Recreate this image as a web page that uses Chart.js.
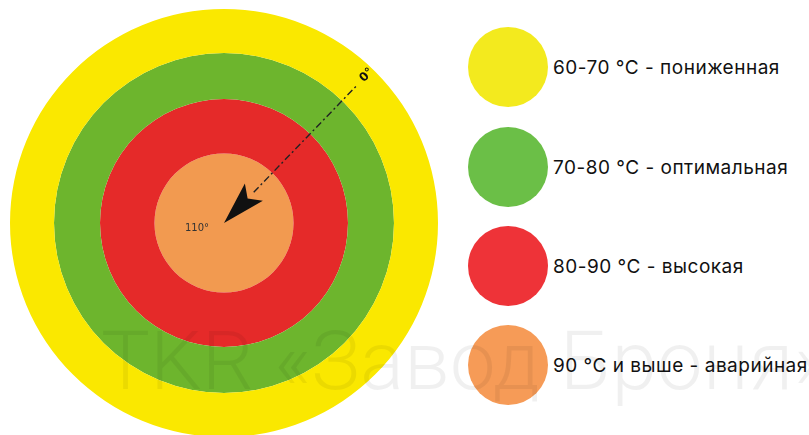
<!DOCTYPE html>
<html lang="ru">
<head>
<meta charset="utf-8">
<script src="https://cdn.jsdelivr.net/npm/chart.js@4.4.1/dist/chart.umd.min.js"></script>
<style>
    html, body { margin: 0; padding: 0; background: #fff; }
    body { width: 809px; height: 435px; position: relative; overflow: hidden; font-family: Inter, "Noto Sans", sans-serif; }
    #chartBox { position: absolute; left: 10px; top: 9px; width: 428px; height: 428px; }
    #legend { position: absolute; left: 0; top: 0; }
    .item { position: absolute; left: 468px; height: 80px; display: flex; align-items: center; white-space: nowrap; }
    .dot { width: 80px; height: 80px; border-radius: 50%; margin-right: 5px; }
    .item span { font-size: 19px; letter-spacing: 0.5px; color: #111; }
    #mark { position: absolute; left: 101px; top: 320px; font-family: Roboto, sans-serif; font-weight: 300;
            font-size: 82px; line-height: 82px; color: rgba(0, 0, 0, 0.06); white-space: nowrap; pointer-events: none; }
</style>
</head>
<body>
<div id="chartBox"><canvas id="rings"></canvas></div>
<div id="legend"></div>
<div id="mark">TKR «Завод Броня»</div>
<script>
// zones, from the outer ring to the centre
const zoneLabels = ['60-70 °C - пониженная', '70-80 °C - оптимальная', '80-90 °C - высокая', '90 °C и выше - аварийная'];
const zoneValues = [1, 1, 1, 1];
const arrowLabels = ['0°', '110°'];

// styles
const ringColors = ['#FAE800', '#6DB52D', '#E52A29', '#F29A50'];
const legendColors = ['#F3EA1E', '#6BBF47', '#EE3338', '#F69B57'];
const ringWeights = [44, 46, 54.5, 69.5];
const legendTops = [27, 127, 226, 325];

const legend = document.getElementById('legend');
zoneLabels.forEach(function (label, i) {
    const item = document.createElement('div');
    item.className = 'item';
    item.style.top = legendTops[i] + 'px';
    item.innerHTML = '<div class="dot" style="background:' + legendColors[i] + '"></div><span>' + label + '</span>';
    legend.appendChild(item);
});

const arrowPlugin = {
    id: 'arrow',
    afterDatasetsDraw(chart) {
        const arc = chart.getDatasetMeta(0).data[0];
        const ctx = chart.ctx;
        const R = arc.outerRadius;
        const a = -46 * Math.PI / 180;
        ctx.save();
        ctx.translate(arc.x, arc.y);
        ctx.rotate(a);

        // dash-dot line
        ctx.strokeStyle = '#222';
        ctx.lineWidth = 1.4;
        ctx.setLineDash([7, 3, 2, 3]);
        ctx.beginPath();
        ctx.moveTo(R * 0.2, 0);
        ctx.lineTo(R * 0.9, 0);
        ctx.stroke();

        // arrow head at the centre
        ctx.setLineDash([]);
        ctx.fillStyle = '#111';
        ctx.beginPath();
        ctx.moveTo(0, 0);
        ctx.lineTo(43, -12.5);
        ctx.lineTo(34, 0);
        ctx.lineTo(43, 12.5);
        ctx.closePath();
        ctx.fill();

        // outer label
        ctx.font = 'bold 12px "DejaVu Sans", sans-serif';
        ctx.textAlign = 'center';
        ctx.textBaseline = 'middle';
        ctx.fillText(arrowLabels[0], R * 0.96, 0);
        ctx.restore();

        // centre label
        ctx.save();
        ctx.fillStyle = '#333';
        ctx.font = '10px "DejaVu Sans", sans-serif';
        ctx.textAlign = 'center';
        ctx.textBaseline = 'middle';
        ctx.fillText(arrowLabels[1], arc.x - 27, arc.y + 5);
        ctx.restore();
    }
};

new Chart(document.getElementById('rings'), {
    type: 'pie',
    data: {
        labels: ['zone'],
        datasets: zoneValues.map(function (v, i) {
            return {
                label: zoneLabels[i],
                data: [v],
                backgroundColor: ringColors[i],
                borderWidth: 0,
                weight: ringWeights[i]
            };
        })
    },
    options: {
        responsive: true,
        maintainAspectRatio: false,
        animation: false,
        layout: { padding: 0 },
        plugins: {
            legend: { display: false },
            tooltip: { enabled: false }
        }
    },
    plugins: [arrowPlugin]
});
</script>
</body>
</html>
